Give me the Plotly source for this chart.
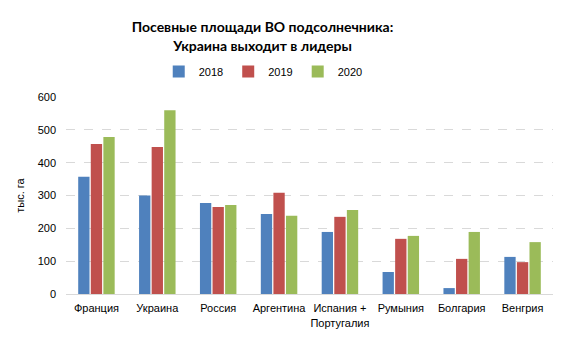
import plotly.graph_objects as go

categories = ["Франция", "Украина", "Россия", "Аргентина", "Испания +<br>Португалия",
              "Румыния", "Болгария", "Венгрия"]
y2018 = [357, 300, 277, 244, 189, 67, 18, 113]
y2019 = [457, 448, 265, 308, 235, 168, 107, 97]
y2020 = [478, 560, 271, 238, 256, 177, 189, 158]
tick_vals = [0, 100, 200, 300, 400, 500, 600]

fig = go.Figure()
for name, vals, col in [("2018", y2018, "#4F81BD"), ("2019", y2019, "#C0504D"), ("2020", y2020, "#9BBB59")]:
    fig.add_trace(go.Bar(name=name, x=categories, y=vals, marker_color=col, marker_line_width=0))

fig.update_layout(
    width=567, height=340,
    margin=dict(l=66, r=14, t=97, b=46, autoexpand=False),
    paper_bgcolor="white", plot_bgcolor="white",
    barmode="group", bargap=0.38, bargroupgap=0.1,
    font=dict(family="Liberation Sans, Arial, sans-serif", size=11, color="#000000"),
    title=dict(text="<b>Посевные площади ВО подсолнечника:<br>Украина выходит в лидеры</b>",
               xref="container", x=0.463, xanchor="center", y=0.905, yanchor="middle",
               font=dict(family="Lato, sans-serif", size=14, color="#000000")),
    legend=dict(orientation="h", x=0.405, xanchor="center", y=1.13, yanchor="middle",
                font=dict(size=11), itemwidth=30, traceorder="normal"),
    showlegend=True,
)
fig.update_xaxes(showline=True, linecolor="#D9D9D9", linewidth=1, ticks="",
                 tickangle=0, automargin=False, ticklabelstandoff=4, tickfont=dict(size=11))
fig.update_yaxes(range=[0, 600], tickvals=tick_vals, showgrid=True, gridcolor="#D9D9D9",
                 griddash="dash", zeroline=False, showline=False, ticks="", automargin=False,
                 ticklabelstandoff=9,
                 title=dict(text="тыс. га", standoff=10, font=dict(size=11)),
                 tickfont=dict(size=11))
fig.write_html("out.html")
